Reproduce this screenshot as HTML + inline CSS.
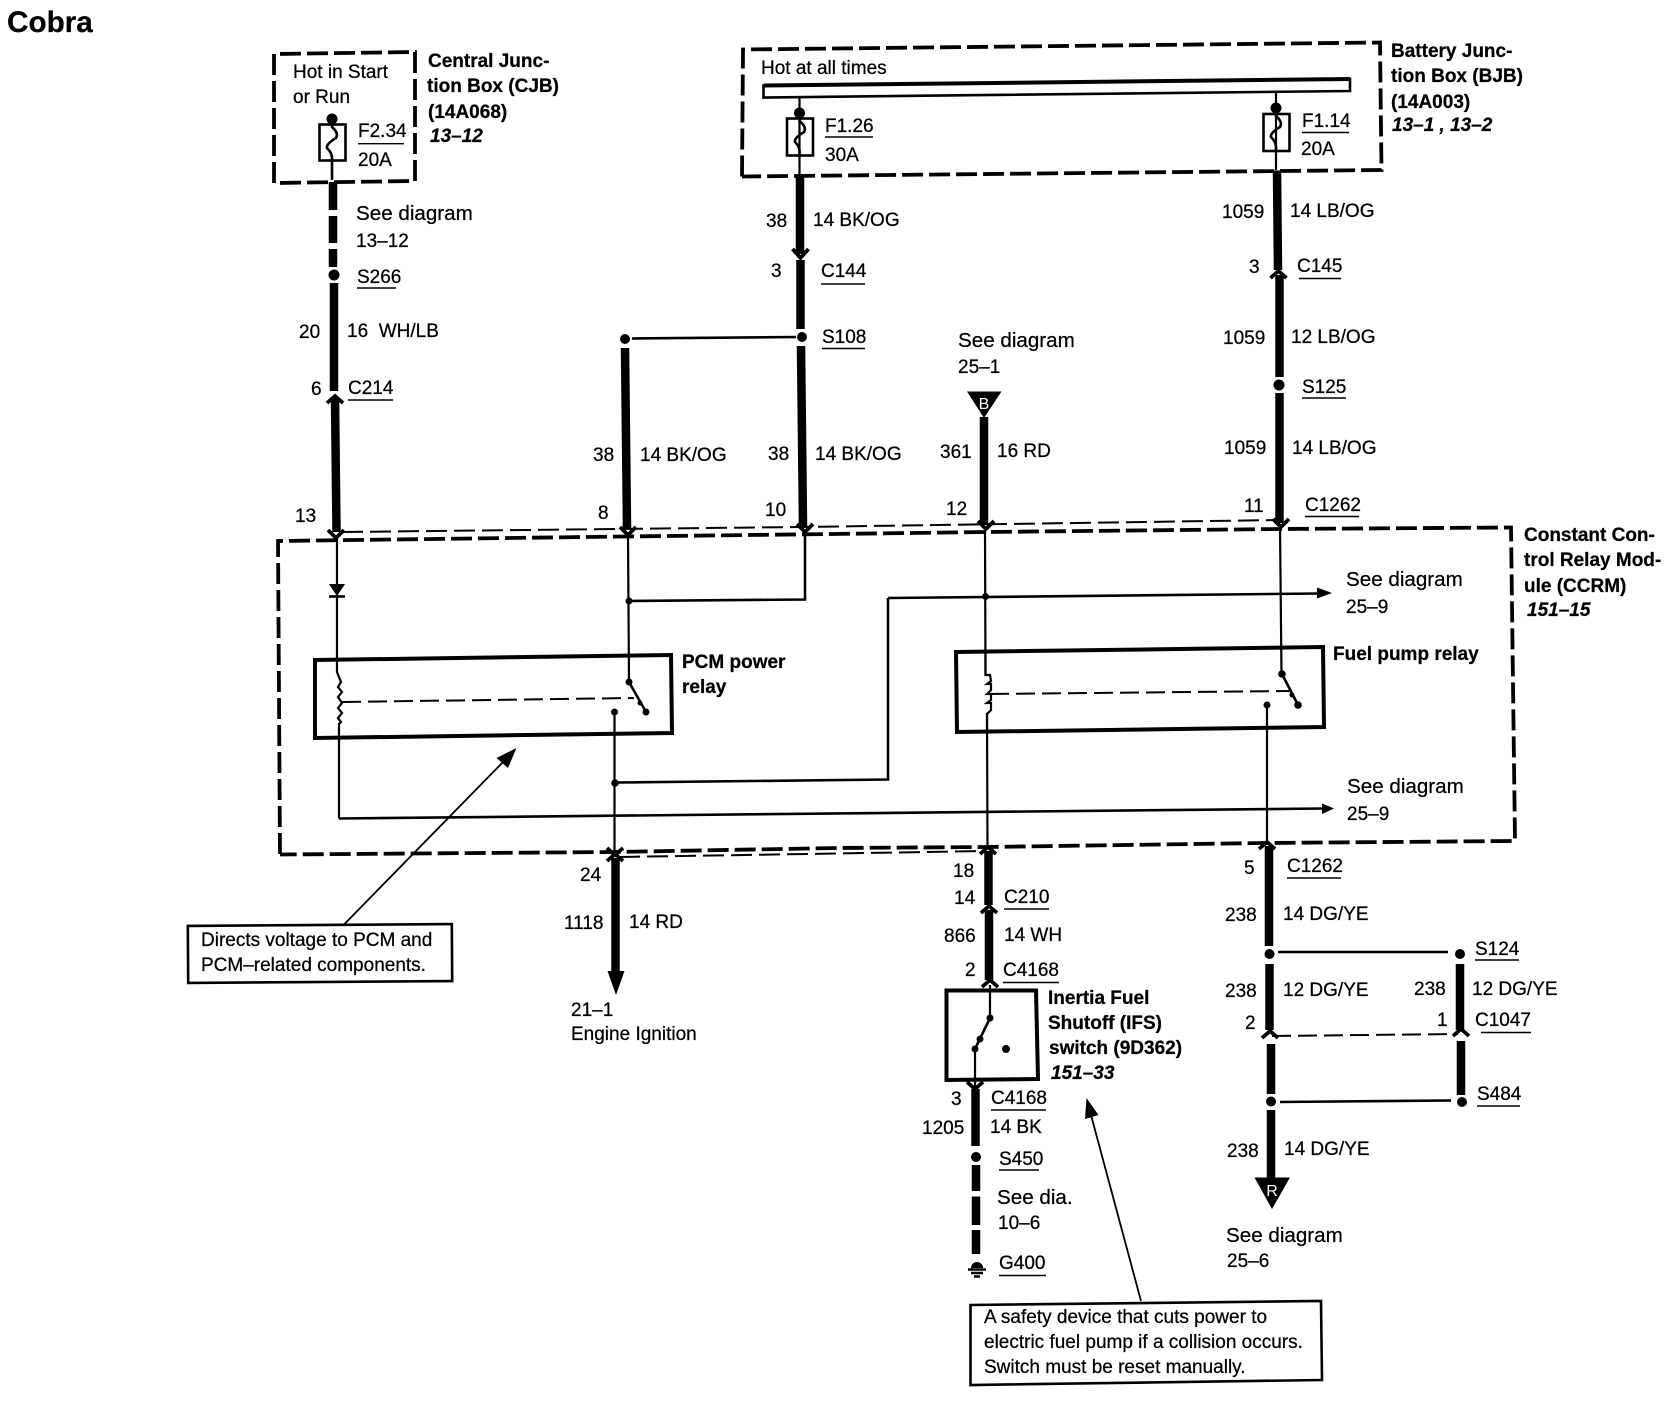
<!DOCTYPE html>
<html><head><meta charset="utf-8"><title>Cobra</title>
<style>
html,body{margin:0;padding:0;background:#fff}
svg{display:block}
text{font-family:"Liberation Sans",sans-serif;font-size:19px;fill:#000;stroke:#000;stroke-width:.25}
.b{font-weight:bold}
.bi{font-weight:bold;font-style:italic}
.s{font-size:20.6px}
.wt{font-size:16px;fill:#fff;stroke:none}
.w{fill:none;stroke:#000;stroke-width:2.2}
.n{fill:none;stroke:#000;stroke-width:2.6}
.t{fill:none;stroke:#000;stroke-width:8.5}
.u{fill:none;stroke:#000;stroke-width:1.4}
.c{fill:none;stroke:#000;stroke-width:3.8}
.d{fill:none;stroke:#000;stroke-width:3.8;stroke-dasharray:21 6}
.d2{fill:none;stroke:#000;stroke-width:2;stroke-dasharray:21 7}
.l{fill:none;stroke:#000;stroke-width:2;stroke-dasharray:19 7}
.r{fill:none;stroke:#000;stroke-width:4}
.f{fill:none;stroke:#000;stroke-width:2.6}
</style></head><body>
<svg width="1674" height="1408" viewBox="0 0 1674 1408" xmlns="http://www.w3.org/2000/svg">
<rect width="1674" height="1408" fill="#fff"/>
<text x="7" y="32" class="b" style="font-size:29.7px">Cobra</text>

<!-- CJB -->
<path class="d" d="M274 183L274 54L415 52L415 181L274 183"/>
<text x="293" y="78">Hot in Start</text><text x="293" y="103">or Run</text>
<text x="428" y="67" class="b">Central Junc-</text><text x="427" y="92" class="b">tion Box (CJB)</text><text x="428" y="118" class="b">(14A068)</text><text x="430" y="142" class="bi">13–12</text>
<circle cx="332" cy="119" r="5.5"/>
<rect class="f" x="319.500" y="124.500" width="26" height="36"/>
<path class="n" d="M332 119V127Q339 133 336 138Q326 144 327 148Q332 153 332 158V180"/>
<text x="358" y="137">F2.34</text><path class="u" d="M358 143.700H404"/><text x="358" y="166">20A</text>
<path class="t" d="M333 182V210M333 216V243M333 249V267"/>
<text x="356" y="220" class="s">See diagram</text><text x="356" y="247">13–12</text>
<circle cx="334" cy="275" r="5.500"/>
<text x="357" y="283">S266</text><path class="u" d="M357 288H396"/>
<path class="t" d="M334 283V391"/>
<text x="299" y="338">20</text><text x="347" y="337">16&#160;&#160;WH/LB</text>
<text x="311" y="395">6</text><text x="348" y="394">C214</text><path class="u" d="M348 400H393"/>
<path class="c" d="M327 403L335 396L343 403"/>
<path class="t" d="M335 398L336.500 532"/>
<text x="295" y="522">13</text>
<path class="c" d="M328 530L336 538L344 530"/>
<path class="w" d="M337 538V672L341 682L338 687L342 692L338 697L342 703L338 708L342 713L338 718L341 722L339 724V818.500"/>
<path d="M329 584H345L337 596Z"/><path class="n" d="M329 596.500H345"/>

<!-- CCRM -->
<path class="d" d="M280 854L278 541L624 536.500L833 534L986 532L1280 529L1511 527.500L1515 841L1264 843L986 847L837 848L614 852L280 854.500"/>
<path class="d2" d="M342 532L801 527L1280 520"/>
<path class="d2" d="M619 857L837 853.500L986 851"/>
<text x="1524" y="541" class="b">Constant Con-</text><text x="1524" y="566" class="b">trol Relay Mod-</text><text x="1524" y="592" class="b">ule (CCRM)</text><text x="1527" y="616" class="bi">151–15</text>

<!-- S108 branch -->
<circle cx="625" cy="339" r="5"/><circle cx="802" cy="337" r="5"/>
<path class="n" d="M632 338.500L796 337"/>
<path class="t" d="M625 348L627 528"/>
<text x="593" y="461">38</text><text x="640" y="461">14 BK/OG</text><text x="598" y="519">8</text>
<path class="c" d="M620 527L628 535L636 527"/>
<path class="w" d="M628 536L629 682"/>
<circle cx="629" cy="601" r="3.500"/>
<path class="n" d="M629 601L805 599.500V534"/>
<path class="c" d="M797 524L805 532L813 524"/>

<!-- BJB -->
<path class="d" d="M742 176.500L743 49.500L1380 42.500L1381.500 170L742 176.500"/>
<text x="761" y="74">Hot at all times</text>
<path d="M763.500 85.500L1350 79V91L763.500 97.500Z" fill="#fff" stroke="#000" stroke-width="2.600"/>
<path d="M764 85.500L1350 79" fill="none" stroke="#000" stroke-width="4"/>
<text x="1391" y="57" class="b">Battery Junc-</text><text x="1391" y="82" class="b">tion Box (BJB)</text><text x="1391" y="108" class="b">(14A003)</text><text x="1392" y="131" class="bi">13–1 , 13–2</text>

<!-- F1.26 -->
<path class="w" d="M799.500 98V176"/>
<circle cx="799.500" cy="113" r="5.500"/>
<rect class="f" x="787" y="118.500" width="26" height="37" fill="#fff"/>
<path class="n" d="M799.500 113V121Q807 127 804 132Q794 138 795 142Q800 147 799.500 152V156"/>
<text x="825" y="132">F1.26</text><path class="u" d="M825 137H873"/><text x="825" y="161">30A</text>
<path class="t" d="M800 177V254"/>
<path class="c" d="M792.500 249L800.500 258L808.500 249"/>
<path class="t" d="M800.500 260V329"/>
<text x="766" y="227">38</text><text x="813" y="226">14 BK/OG</text>
<text x="771" y="277">3</text><text x="821" y="277">C144</text><path class="u" d="M821 284H865"/>
<text x="822" y="343">S108</text><path class="u" d="M822 348.500H865"/>
<path class="t" d="M801 346L803 526"/>
<text x="768" y="460">38</text><text x="815" y="460">14 BK/OG</text><text x="765" y="516">10</text>

<!-- F1.14 -->
<path class="w" d="M1276 91V170"/>
<circle cx="1276" cy="108" r="5.500"/>
<rect class="f" x="1263.500" y="114" width="26" height="37"/>
<path class="n" d="M1276 108V116Q1283 122 1280 127Q1270 133 1271 137Q1276 142 1276 147V151"/>
<text x="1302" y="127">F1.14</text><path class="u" d="M1302 132.500H1349"/><text x="1301" y="155">20A</text>
<path class="t" d="M1277 170.500L1278 270"/>
<text x="1222" y="218">1059</text><text x="1290" y="217">14 LB/OG</text>
<text x="1249" y="273">3</text><text x="1297" y="272">C145</text><path class="u" d="M1299 278.500H1341"/>
<path class="c" d="M1270.500 278L1278.500 271L1286.500 278"/>
<path class="t" d="M1279.500 275V377"/>
<circle cx="1279" cy="385" r="5.500"/>
<text x="1302" y="393">S125</text><path class="u" d="M1302 398H1346"/>
<text x="1223" y="344">1059</text><text x="1291" y="343">12 LB/OG</text>
<path class="t" d="M1279.500 393V523"/>
<text x="1224" y="454">1059</text><text x="1292" y="454">14 LB/OG</text>
<text x="1244" y="512">11</text><text x="1305" y="511">C1262</text><path class="u" d="M1305 516.500H1359"/>
<path class="c" d="M1273 519L1281 527L1289 519"/>
<path class="w" d="M1280 526L1281.500 674"/>

<!-- B feed -->
<text x="958" y="347" class="s">See diagram</text><text x="958" y="373">25–1</text>
<path d="M967 391.500H1001.500L984 418Z"/>
<text x="984" y="409" text-anchor="middle" class="wt">B</text>
<path class="t" d="M984 417V525"/>
<text x="940" y="458">361</text><text x="997" y="457">16 RD</text><text x="946" y="515">12</text>
<path class="c" d="M978 521L986 529L994 521"/>
<path class="w" d="M985 530L985.500 675M987 713L987.500 847"/>
<circle cx="985.500" cy="596.500" r="3.500"/>
<path class="n" d="M888 598L1318 593.500"/>
<path d="M1317 587.500L1332 593L1317 598.500Z"/>
<path class="n" d="M888 598V779.500L617 782.500"/>
<circle cx="615" cy="783" r="3.800"/>
<text x="1346" y="586" class="s">See diagram</text><text x="1346" y="613">25–9</text>

<!-- PCM relay -->
<path class="r" d="M315 660L671 655L672 733L315 738Z"/>
<text x="682" y="668" class="b">PCM power</text><text x="682" y="693" class="b">relay</text>
<path class="l" d="M342 702L634 698"/>
<circle cx="629" cy="682" r="3.500"/>
<path class="n" d="M629 682L646 712"/>
<circle cx="646" cy="712" r="3.500"/>
<circle cx="640" cy="703" r="2.500"/>
<circle cx="614.500" cy="712" r="3.500"/>
<path class="w" d="M614.500 712V852"/>
<path class="c" d="M607 848L615 855L623 848M607 861L615 854L623 861"/>
<path class="t" d="M615.500 858V975"/>
<path d="M607.500 971H624.500L616 995Z"/>
<text x="580" y="881">24</text><text x="564" y="929">1118</text><text x="629" y="928">14 RD</text>
<text x="571" y="1016">21–1</text><text x="571" y="1040">Engine Ignition</text>

<!-- Long lower wire -->
<path class="n" d="M339 818.500L1323 808.500"/>
<path d="M1322 803.500L1334 808.500L1322 814Z"/>
<text x="1347" y="793" class="s">See diagram</text><text x="1347" y="820">25–9</text>

<!-- Fuel relay -->
<path class="r" d="M956 652L1323 647L1324 727L957 732Z"/>
<text x="1333" y="660" class="b">Fuel pump relay</text>
<path class="w" d="M985.500 652V675H990L991 681L987 684H991V690L987 694H991V700L987 703H991V710L987 714V732"/>
<path class="l" d="M990 694L1291 691"/>
<circle cx="1282" cy="674" r="3.800"/>
<path class="n" d="M1282 674L1298 705"/>
<circle cx="1298" cy="705" r="3.800"/>
<circle cx="1292" cy="695" r="2.500"/>
<circle cx="1267" cy="705" r="3.500"/>
<path class="w" d="M1267 705V843"/>
<path class="c" d="M1259 849L1267 842L1275 849"/>

<!-- Fuel pump output -->
<path class="t" d="M1269 846V946"/>
<text x="1244" y="874">5</text><text x="1287" y="872">C1262</text><path class="u" d="M1287 878H1341"/>
<text x="1225" y="921">238</text><text x="1283" y="920">14 DG/YE</text>
<circle cx="1269.500" cy="954" r="5"/>
<path class="n" d="M1278 952H1448"/>
<circle cx="1460" cy="954" r="5"/>
<text x="1475" y="955">S124</text><path class="u" d="M1475 960H1519"/>
<path class="t" d="M1269.500 964V1030"/>
<path class="t" d="M1460 964V1030"/>
<text x="1225" y="997">238</text><text x="1283" y="996">12 DG/YE</text>
<text x="1414" y="995">238</text><text x="1472" y="995">12 DG/YE</text>
<text x="1245" y="1029">2</text><text x="1437" y="1026">1</text>
<text x="1475" y="1026">C1047</text><path class="u" d="M1481 1032.500H1531"/>
<path class="c" d="M1262 1038L1270 1031L1278 1038"/>
<path class="c" d="M1453 1036L1461 1029L1469 1036"/>
<path class="l" d="M1272 1036L1458 1034"/>
<path class="t" d="M1271 1044V1094"/>
<path class="t" d="M1461 1041V1095"/>
<circle cx="1271" cy="1101.500" r="5"/>
<path class="n" d="M1280 1102L1451 1100.500"/>
<circle cx="1462" cy="1102" r="5"/>
<text x="1477" y="1100">S484</text><path class="u" d="M1477 1106H1520"/>
<path class="t" d="M1271 1110V1180"/>
<path d="M1254.500 1177.500H1290L1272 1209Z"/>
<text x="1272" y="1196" text-anchor="middle" class="wt">R</text>
<text x="1227" y="1157">238</text><text x="1284" y="1155">14 DG/YE</text>
<text x="1226" y="1242" class="s">See diagram</text><text x="1227" y="1267">25–6</text>

<!-- Inertia switch -->
<path class="c" d="M980 854L988 847L996 854"/>
<path class="t" d="M988.500 851V905"/>
<path class="c" d="M981 913L989 906L997 913"/>
<text x="953" y="877">18</text><text x="954" y="904">14</text>
<text x="1004" y="903">C210</text><path class="u" d="M1004 909H1049"/>
<path class="t" d="M989 910V980"/>
<text x="944" y="942">866</text><text x="1004" y="941">14 WH</text>
<text x="965" y="976">2</text><text x="1003" y="976">C4168</text><path class="u" d="M1003 982.500H1059"/>
<path class="c" d="M982 987L990 980L998 987"/>
<path class="r" d="M946.500 990.500H1036L1038 1079L946.500 1080Z"/>
<path class="w" d="M990 985V1018"/>
<path class="n" d="M990 1018L975 1049"/>
<circle cx="990" cy="1018" r="3.500"/><circle cx="980" cy="1039" r="3.500"/><circle cx="975" cy="1049" r="3.500"/>
<circle cx="1006" cy="1049" r="4"/>
<path class="w" d="M975 1049V1088"/>
<path class="c" d="M967 1082L975 1089L983 1082"/>
<text x="1048" y="1004" class="b">Inertia Fuel</text><text x="1048" y="1029" class="b">Shutoff (IFS)</text><text x="1049" y="1054" class="b">switch (9D362)</text><text x="1051" y="1079" class="bi">151–33</text>
<path class="t" d="M975.500 1089V1146"/>
<circle cx="976" cy="1157" r="5"/>
<path class="t" d="M976 1165V1191M976 1196.500V1225M976 1230V1254"/>
<path d="M971 1268A6 6 0 0 1 983 1268Z"/>
<path class="n" d="M968 1269.500H986M971 1273H983M974 1276.500H980"/>
<text x="951" y="1105">3</text><text x="991" y="1104">C4168</text><path class="u" d="M991 1110H1046"/>
<text x="922" y="1134">1205</text><text x="990" y="1133">14 BK</text>
<text x="999" y="1165">S450</text><path class="u" d="M999 1170H1039"/>
<text x="997" y="1204" class="s">See dia.</text><text x="998" y="1229">10–6</text>
<text x="999" y="1269">G400</text><path class="u" d="M999 1275.500H1046"/>

<!-- Note 1 -->
<rect x="188" y="925" width="264" height="57" fill="#fff" stroke="#000" stroke-width="2.600" transform="rotate(-0.4 320 953)"/>
<text x="201" y="946">Directs voltage to PCM and</text><text x="201" y="971">PCM–related components.</text>
<path class="u" d="M344.500 924L505 760" style="stroke-width:1.800"/>
<path d="M516.500 748L496.500 758L508 768Z"/>

<!-- Note 2 -->
<path d="M970.500 1305L1321 1301L1322 1380L970.500 1385Z" fill="#fff" stroke="#000" stroke-width="2.600"/>
<text x="984" y="1323">A safety device that cuts power to</text><text x="984" y="1348">electric fuel pump if a collision occurs.</text><text x="984" y="1373">Switch must be reset manually.</text>
<path class="u" d="M1141 1301L1091 1115" style="stroke-width:1.800"/>
<path d="M1086.500 1098L1085 1119L1098.500 1115Z"/>
</svg>
</body></html>
